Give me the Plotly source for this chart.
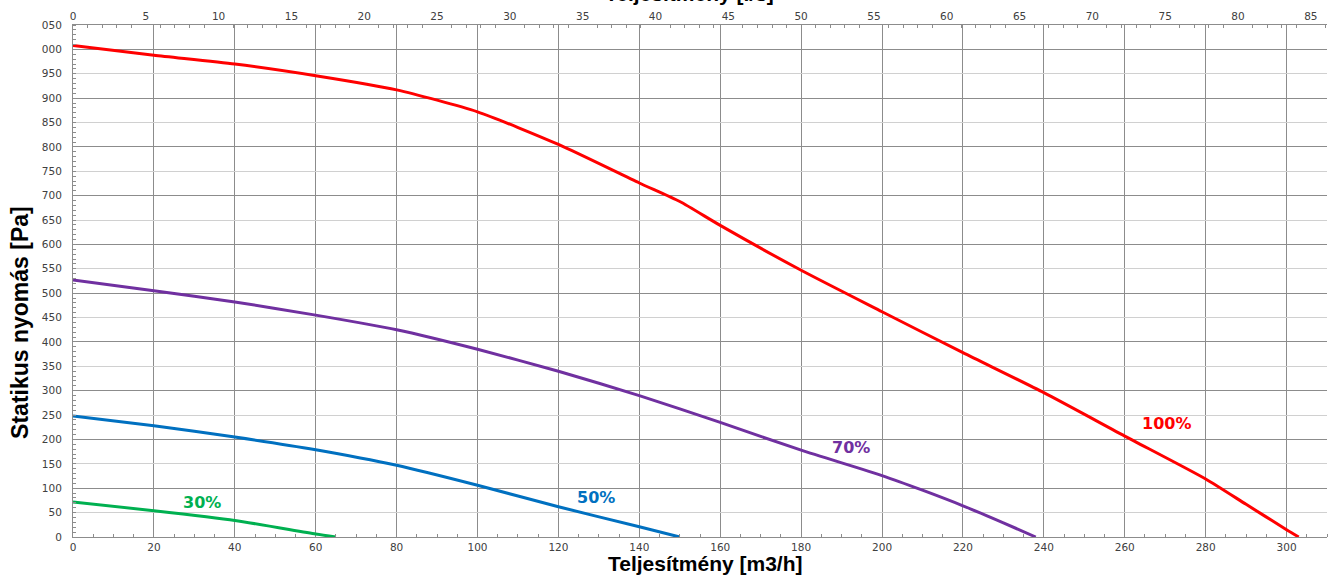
import plotly.graph_objects as go

# ---- data ----
q_100 = [0, 20, 40, 60, 80, 100, 120, 140, 150, 160, 180, 200, 220, 240, 260, 280, 290, 300, 303]
p_100 = [1008, 988, 970, 946, 917, 872, 805, 726, 688, 639, 547, 462, 378, 296, 207, 119, 67, 15, 0]

q_70 = [0, 20, 40, 60, 80, 100, 120, 140, 160, 180, 200, 210, 220, 230, 238]
p_70 = [527, 505, 482, 455, 425, 385, 340, 290, 235, 178, 126, 96, 64, 29, 0]

q_50 = [0, 20, 40, 60, 80, 100, 120, 140, 150]
p_50 = [248, 228, 205, 179, 147, 106, 62, 21, 0]

q_30 = [0, 20, 40, 60, 65]
p_30 = [72, 54, 34, 6, 0]

series = [
    ("100%", q_100, p_100, "#ff0000"),
    ("70%", q_70, p_70, "#7030a0"),
    ("50%", q_50, p_50, "#0070c0"),
    ("30%", q_30, p_30, "#00b050"),
]
label_pos = {"100%": (270.4, 232), "70%": (192.3, 183), "50%": (129.4, 82), "30%": (32, 70)}

y_vals = list(range(0, 1051, 50))
y_text = [str(v) for v in y_vals]
y_text[-2] = "000"   # as visible in the (cropped) reference
y_text[-1] = "050"

x_max = 310
fig = go.Figure()
for name, q, p, col in series:
    fig.add_trace(go.Scatter(x=q, y=p, mode="lines", name=name,
                             line=dict(color=col, width=3, shape="spline", smoothing=0.6),
                             showlegend=False, hoverinfo="skip"))
    lx, ly = label_pos[name]
    fig.add_annotation(x=lx, y=ly, text="<b>%s</b>" % name, showarrow=False,
                       font=dict(family="DejaVu Sans", size=16, color=col))

tickfont = dict(family="DejaVu Sans", size=10.5, color="#404040")
fig.update_layout(
    width=1334, height=579,
    margin=dict(l=73, r=7, t=25, b=42, autoexpand=False),
    paper_bgcolor="white", plot_bgcolor="white",
    xaxis=dict(range=[0, x_max], dtick=20, tick0=0, showgrid=True, gridcolor="#8c8c8c",
               gridwidth=1, showline=True, linecolor="#8c8c8c", linewidth=1,
               ticks="", tickfont=tickfont, zeroline=False,
               minor=dict(dtick=5, ticks="inside", ticklen=3, tickcolor="#8c8c8c", showgrid=False)),
    xaxis2=dict(range=[0, x_max / 3.6], overlaying="x", side="top", dtick=5, tick0=0,
                showgrid=False, showline=True, linecolor="#8c8c8c", ticks="",
                tickfont=tickfont, zeroline=False,
                minor=dict(dtick=1, ticks="inside", ticklen=3, tickcolor="#8c8c8c", showgrid=False)),
    yaxis=dict(range=[0, 1050], tickmode="array", tickvals=y_vals, ticktext=y_text,
               showgrid=True, gridcolor="#d0d0d0", gridwidth=1, showline=True,
               linecolor="#8c8c8c", ticks="", tickfont=tickfont, zeroline=False,
               ticklabelstandoff=8,
               minor=dict(dtick=10, ticks="inside", ticklen=3, tickcolor="#8c8c8c", showgrid=False)),
    yaxis2=dict(range=[0, 1050], overlaying="y", dtick=100, tick0=0, showgrid=True,
                gridcolor="#8c8c8c", gridwidth=1, showticklabels=False, ticks="",
                zeroline=False, showline=False),
)

# dummy (empty) trace so the overlay axes exist
fig.add_trace(go.Scatter(x=[], y=[], xaxis="x2", yaxis="y2", showlegend=False))

fig.add_annotation(xref="paper", yref="paper", x=-0.0423, y=0.42, xanchor="center", yanchor="middle",
                   text="<b>Statikus nyomás [Pa]</b>",
                   textangle=-90, showarrow=False, font=dict(family="Liberation Sans", size=23, color="black"))
fig.add_annotation(xref="paper", yref="paper", x=0.5047, y=-0.0527, xanchor="center", yanchor="middle",
                   text="<b>Teljesítmény [m3/h]</b>", showarrow=False,
                   font=dict(family="Liberation Sans", size=21, color="black"))
fig.add_annotation(xref="paper", yref="paper", x=0.4914, y=1.062, xanchor="center", yanchor="middle",
                   text="<b>Teljesítmény [l/s]</b>", showarrow=False,
                   font=dict(family="Liberation Sans", size=21, color="black"))

fig.write_html("out.html", config={"displayModeBar": False},
               post_script="document.body.style.margin='0';document.body.style.overflow='hidden';")
